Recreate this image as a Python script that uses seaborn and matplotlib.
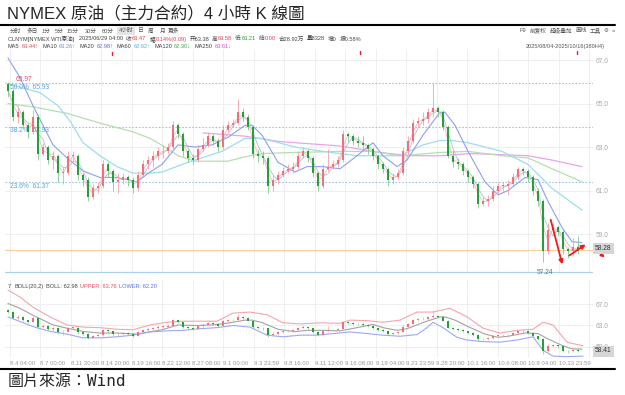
import numpy as np
import pandas as pd
import seaborn as sns
import matplotlib.pyplot as plt
from matplotlib.lines import Line2D

# one candle here ~ three real 4h bars of the reference
closes = [65.6, 64.4, 64.6, 64.0, 63.7, 64.4, 62.7, 63.0, 62.4, 62.6,
          61.8, 61.8, 62.6, 62.6, 61.7, 61.5, 60.7, 61.1, 61.2, 62.2,
          61.9, 61.4, 61.5, 61.6, 61.5, 61.1, 61.7, 62.2, 62.4, 62.6,
          62.8, 62.8, 63.0, 64.0, 63.6, 62.8, 62.5, 62.4, 62.9, 63.1,
          63.5, 63.3, 63.0, 63.8, 64.0, 64.1, 64.6, 64.4, 63.9, 62.7,
          62.6, 62.5, 61.2, 61.5, 61.7, 61.9, 62.0, 62.1, 62.6, 62.8,
          62.5, 61.8, 61.2, 62.0, 62.1, 62.2, 62.4, 63.6, 63.5, 63.3,
          63.2, 63.1, 62.9, 62.6, 62.2, 62.0, 61.5, 61.6, 61.8, 62.8,
          63.3, 64.1, 64.2, 64.3, 64.6, 64.8, 64.6, 63.9, 62.6, 62.3,
          62.2, 61.9, 61.6, 61.3, 60.4, 60.5, 60.6, 61.0, 61.2, 61.2,
          61.3, 61.6, 62.0, 61.9, 61.6, 61.0, 60.5, 58.2, 59.2, 59.3,
          59.1, 58.3, 58.2, 58.4, 58.28]
highs = [66.0, 65.7, 64.9, 64.7, 64.1, 64.7, 64.5, 63.2, 63.1, 62.8,
         62.7, 62.1, 62.8, 62.8, 62.7, 61.8, 61.6, 61.3, 61.4, 62.4,
         62.3, 62.0, 61.8, 61.8, 61.7, 61.6, 61.9, 62.4, 62.6, 62.8,
         63.0, 63.1, 63.2, 64.2, 64.1, 63.7, 62.9, 62.7, 63.1, 63.4,
         63.7, 63.6, 63.4, 64.0, 64.2, 64.3, 65.2, 64.8, 64.5, 64.0,
         62.9, 62.8, 62.6, 61.7, 61.9, 62.1, 62.2, 62.3, 62.8, 63.0,
         62.9, 62.6, 61.9, 62.2, 62.9, 62.4, 62.6, 63.8, 63.7, 63.6,
         63.5, 63.5, 63.2, 63.0, 62.7, 62.3, 62.1, 61.8, 62.0, 63.0,
         63.5, 64.3, 64.4, 64.6, 64.8, 65.95, 64.9, 64.7, 64.0, 62.8,
         62.5, 62.3, 62.0, 61.7, 61.4, 60.7, 60.8, 61.2, 61.4, 61.4,
         61.5, 61.8, 62.1, 62.1, 62.0, 61.7, 61.1, 60.6, 59.5, 59.5,
         59.4, 59.2, 58.4, 58.8, 58.9]
lows = [65.3, 64.2, 64.1, 63.9, 63.4, 63.6, 62.4, 62.6, 62.2, 62.0,
        61.4, 61.3, 61.7, 62.3, 61.5, 61.2, 60.5, 60.6, 60.9, 61.1,
        61.6, 61.0, 60.9, 61.3, 61.2, 60.9, 61.0, 61.6, 62.0, 62.1,
        62.4, 62.5, 62.7, 62.9, 63.4, 62.6, 62.3, 62.2, 62.3, 62.8,
        63.0, 63.1, 62.8, 62.9, 63.7, 63.9, 64.0, 64.2, 63.8, 62.5,
        62.3, 62.2, 60.9, 61.0, 61.3, 61.6, 61.8, 61.8, 62.0, 62.5,
        62.3, 61.6, 61.0, 61.1, 61.9, 62.0, 62.1, 62.3, 63.3, 63.1,
        63.0, 62.9, 62.7, 62.4, 62.0, 61.8, 61.2, 61.3, 61.5, 61.7,
        62.7, 63.2, 63.9, 64.0, 64.1, 64.4, 64.4, 63.8, 62.5, 62.1,
        62.0, 61.7, 61.4, 61.1, 60.2, 60.3, 60.3, 60.5, 60.9, 61.0,
        60.8, 61.2, 61.5, 61.7, 61.4, 60.8, 60.3, 57.7, 58.1, 59.0,
        58.9, 58.1, 57.9, 58.0, 58.1]
first_open = 65.9

# long moving averages, sampled along the bar axis
ma20_bar = [0, 2.4, 5, 7, 9, 11.8, 15, 18.4, 21.8, 25.8, 28.4, 30.8, 34, 37.4, 40.8, 44,
            47.4, 48.8, 50.8, 54, 57.4, 59.8, 63, 66.4, 69.8, 73, 75, 77.8, 79.8, 83,
            86.4, 87.4, 89.4, 92, 95.4, 98, 100, 103.4, 106, 108, 110.8, 112.8, 114.8]
ma20_val = [67.1, 66.2, 64.9, 64.0, 63.1, 62.5, 61.9, 61.6, 61.6, 61.4, 61.85, 62.2, 63.1, 63.0,
            63.1, 63.45, 64.0, 64.0, 63.55, 62.3, 61.85, 62.1, 62.1, 62.0, 62.6, 63.2, 62.6,
            62.1, 62.4, 63.55, 64.6, 64.6, 64.0, 62.8, 61.4, 60.8, 61.0, 61.6, 61.5, 60.5,
            59.3, 58.65, 58.6]
ma60_bar = [0, 6.4, 10, 12.4, 15, 18.4, 21.8, 25, 28.4, 30.8, 36, 42.8, 47.4, 50.8, 57.4,
            63, 69.8, 78.4, 83, 86.4, 88.8, 92, 98.8, 104, 108.8, 114.8]
ma60_val = [65.9, 65.5, 64.9, 64.2, 63.2, 62.6, 62.1, 61.8, 61.8, 61.85, 62.3, 62.8, 63.4,
            63.4, 63.0, 62.8, 62.6, 62.6, 63.1, 63.3, 63.3, 63.2, 62.8, 62.2, 61.1, 60.1]
ma120_bar = [0, 5, 11.8, 18.4, 25, 28.4, 31.4, 34, 37.4, 44, 47.4, 50.8, 57.4, 66.4, 73,
             78.4, 86.4, 92, 98.8, 104, 108.8, 114.8]
ma120_val = [65.0, 64.85, 64.55, 64.1, 63.7, 63.4, 63.0, 62.6, 62.35, 62.35, 62.55, 62.7,
             62.75, 62.8, 62.8, 62.6, 62.75, 62.8, 62.6, 62.5, 62.0, 61.4]
ma250_bar = [39, 47.4, 54.4, 66.4, 74.4, 80.4, 86.4, 92.4, 98.8, 104, 108.8, 114.8]
ma250_val = [63.65, 63.5, 63.25, 63.05, 62.75, 62.6, 62.6, 62.7, 62.65, 62.6, 62.4, 62.1]

# bollinger bands of the lower panel (middle band = MA20)
up_bar = [0, 2.4, 5, 8.4, 11.8, 15, 18.4, 21.8, 25, 28.4, 31.8, 35, 41.8, 45, 48.4, 51.8,
          55, 58.4, 62.4, 66.4, 68.4, 71.8, 75, 78.4, 81.8, 85, 88.4, 91.8, 95, 98.4,
          101.8, 105, 107, 109, 111.8, 115]
up_val = [69.6, 68.3, 66.4, 64.6, 63.1, 62.7, 62.6, 62.3, 62.2, 63.1, 63.6, 63.8, 63.8,
          65.3, 65.5, 65.0, 63.5, 63.3, 63.5, 63.4, 64.0, 63.9, 63.6, 64.0, 65.5, 65.5,
          66.2, 64.6, 62.5, 61.6, 62.1, 62.3, 63.6, 63.1, 59.9, 59.2]
low_bar = [0, 5, 8.4, 11.8, 15, 18.4, 21.8, 25, 28.4, 31.8, 35, 38.4, 41.8, 45, 48.4, 51.8,
           55, 58.4, 61.8, 65, 68.4, 71.8, 75, 78.4, 81.8, 83.8, 85, 87, 89.8, 91.8, 95,
           98.4, 101.8, 105, 107, 109, 111.8, 115]
low_val = [64.6, 62.8, 61.9, 61.4, 60.7, 60.7, 60.9, 61.2, 61.8, 62.0, 62.1, 62.4, 62.6,
           63.0, 62.7, 61.2, 60.9, 61.2, 61.2, 61.5, 61.8, 61.5, 61.2, 61.0, 61.3, 62.6,
           63.6, 62.6, 60.8, 60.3, 60.0, 59.9, 60.3, 60.9, 58.4, 57.3, 57.2, 57.3]

fib_names = ['50.0%', '38.2%', '23.6%']
fib_levels = [65.93, 63.93, 61.37]
last_price = 58.28
low_mark = 57.24
date_labels = ['8.4 04:00', '8.7 00:00', '8.11 20:00', '8.14 20:00', '8.19 16:00',
               '8.22 12:00', '8.27 08:00', '9.1 00:00', '9.3 23:59', '9.8 16:00',
               '9.11 12:00', '9.16 08:00', '9.19 04:00', '9.23 23:59', '9.28 20:00',
               '10.1 16:00', '10.6 08:00', '10.9 04:00', '10.13 23:59']
# hand drawn red arrows (bar, price) -> (bar, price)
arrows = [((108.4, 59.78), (111.0, 57.48)), ((111.8, 57.94), (116.0, 58.59))]

sns.set_theme(style='white')
plt.rcParams['font.family'] = ['DejaVu Sans', 'Noto Sans CJK SC']
small = ['Liberation Sans Narrow', 'Liberation Sans', 'Noto Sans CJK SC', 'DejaVu Sans']
FS = 4.1

W, H = 625, 395
fig = plt.figure(figsize=(W / 100, H / 100), dpi=100)
renderer = fig.canvas.get_renderer()


def px(x, y):
    return x / W, 1 - y / H


def label(x, y, s, color='#555555', size=FS, **kw):
    return fig.text(*px(x, y), s, fontsize=size, color=color, family=small,
                    va='center', ha='left', **kw)


def chain(x, y, parts):
    # parts: (text, colour, gap in px after it)
    for s, c, gap in parts:
        t = label(x, y, s, color=c)
        x += t.get_window_extent(renderer).width + gap


df = pd.DataFrame({'close': closes, 'high': highs, 'low': lows})
df['open'] = [first_open] + closes[:-1]
df['bar'] = np.arange(len(df))
df['ma5'] = df['close'].rolling(2, min_periods=1).mean()
df['ma10'] = df['close'].rolling(3, min_periods=1).mean()

grid_pos = 0.3 + 6.1 * np.arange(20)


def candles(ax, width, lw):
    up = df['close'] >= df['open']
    body_lo = np.minimum(df['open'], df['close'])
    body_h = np.maximum((df['close'] - df['open']).abs(), 0.04)
    ax.vlines(df['bar'], df['low'], df['high'],
              colors=np.where(up, '#f4a1a8', '#7fc98a'), lw=lw, zorder=3)
    ax.bar(df['bar'], body_h, bottom=body_lo, width=width,
           color=np.where(up, '#f0717b', '#23a038'), linewidth=0, zorder=4)


def base(ax):
    for s in ax.spines.values():
        s.set_visible(False)
    ax.set_xlim(-0.6, 117)
    for g in grid_pos:
        ax.axvline(g, color='#efefef', lw=0.7, zorder=0)
    ax.yaxis.tick_right()
    ax.tick_params(axis='y', length=0, pad=2, labelsize=4.8, labelcolor='#a8a8a8')
    ax.tick_params(axis='x', length=0)
    for t in ax.get_yticklabels() + ax.get_xticklabels():
        t.set_family(small)


# ---- main candle panel
ax = fig.add_axes([5 / W, 1 - 274 / H, 588 / W, 225 / H])
ax.set_ylim(57.16, 67.51)
ax.set_yticks([59, 61, 63, 65, 67], ['59.0', '61.0', '63.0', '65.0', '67.0'])
ax.set_xticks([])
base(ax)
for v in [59, 61, 63, 65, 67]:
    ax.axhline(v, color='#efefef', lw=0.7, zorder=0)
for name, v in zip(fib_names, fib_levels):
    ax.axhline(v, color='#9cc3e6', lw=0.8, ls=(0, (1.5, 1.5)), zorder=1)
    ax.annotate(f'{name}  {v:.2f}', (0.5, v), xytext=(0, -3), textcoords='offset points',
                fontsize=4.8, color='#5f9fd6', va='center', ha='left', family=small)
ax.annotate('65.97', (1.6, 65.97), xytext=(0, 2.2), textcoords='offset points',
            fontsize=4.8, color='#e0505a', va='center', ha='left', family=small)
ax.axhline(last_price, color='#fbcf9f', lw=0.9, zorder=1)
ax.axhline(low_mark, color='#a9d0ec', lw=0.9, zorder=1)
ax.text(107.4, low_mark, f'{low_mark:.2f}', fontsize=4.8, color='#4f8a5a',
        ha='center', va='center', zorder=6, family=small)

for xs, ys, col, lw in [(ma250_bar, ma250_val, '#e9a3ec', 0.9),
                        (ma120_bar, ma120_val, '#b3dfae', 0.9),
                        (ma60_bar, ma60_val, '#9fdcf0', 0.9),
                        (ma20_bar, ma20_val, '#8d9ff0', 0.8)]:
    sns.lineplot(x=xs, y=ys, ax=ax, color=col, lw=lw, zorder=2)
sns.lineplot(data=df, x='bar', y='ma10', ax=ax, color='#b4bfd6', lw=0.6, zorder=2)
sns.lineplot(data=df, x='bar', y='ma5', ax=ax, color='#f4b8be', lw=0.6, zorder=2)
candles(ax, 0.55, 0.6)
ax.set_xlabel('')
ax.set_ylabel('')
for (x0, y0), (x1, y1) in arrows:
    ax.annotate('', xy=(x1, y1), xytext=(x0, y0),
                arrowprops=dict(arrowstyle='-|>', color='#ee1c1c', lw=1.3,
                                mutation_scale=6), zorder=7)
ax.annotate('', xy=(119.8, 57.85), xytext=(118.0, 58.17), annotation_clip=False,
            arrowprops=dict(arrowstyle='-|>', color='#ee1c1c', lw=1.2, mutation_scale=5))

# ---- lower BOLL panel
ax2 = fig.add_axes([5 / W, 1 - 358 / H, 588 / W, 78 / H])
ax2.set_ylim(56.95, 71.47)
ax2.set_yticks([59, 63, 67], ['59.0', '63.0', '67.0'])
ax2.set_xticks(grid_pos[:len(date_labels)], date_labels, ha='left')
base(ax2)
ax2.tick_params(axis='x', labelsize=4.3, labelcolor='#9a9a9a', pad=2)
for v in [59, 63, 67]:
    ax2.axhline(v, color='#efefef', lw=0.7, zorder=0)
sns.lineplot(x=up_bar, y=up_val, ax=ax2, color='#f3a6ac', lw=0.8, zorder=2)
sns.lineplot(x=ma20_bar, y=ma20_val, ax=ax2, color='#a3a3a3', lw=0.8, zorder=2)
sns.lineplot(x=low_bar, y=low_val, ax=ax2, color='#9aa9f5', lw=0.8, zorder=2)
candles(ax2, 0.45, 0.5)
ax2.set_xlabel('')
ax2.set_ylabel('')

# ---- header and footer text
fig.text(*px(7, 13), 'NYMEX 原油（主力合約）4 小時 K 線圖', fontsize=12,
         family=['Liberation Sans Narrow', 'Liberation Sans', 'Noto Sans CJK TC'],
         va='center', ha='left')
fig.add_artist(Line2D([0, 615 / W], [1 - 25 / H] * 2, color='black', lw=1.5))
fig.add_artist(Line2D([0, 615 / W], [1 - 369 / H] * 2, color='black', lw=1.5))
fig.text(*px(8, 381), '圖片來源：Wind', fontsize=11.5,
         family=['DejaVu Sans Mono', 'Noto Sans CJK TC'], va='center', ha='left')

tools = ['分时', '多日', '1分', '5分', '15分', '30分', '60分', '4小时', '日', '周', '月', '更多']
tool_x = [10, 27, 42, 55, 67, 85, 102, 119, 138, 148, 160, 168]
for t, x in zip(tools, tool_x):
    kw = dict(bbox=dict(boxstyle='square,pad=0.3', fc='#e4e4e4', ec='none')) if t == '4小时' else {}
    label(x, 31, t, **kw)
x = 520
for t in ['F9', '前复权', '超级叠加', '画线', '工具', '\u2699', '»']:
    tx = fig.text(*px(x, 31), t, fontsize=FS, color='#555555', va='center', ha='left',
                  family=['Liberation Sans', 'Noto Sans CJK SC', 'DejaVu Sans'])
    x += tx.get_window_extent(renderer).width + 3

G = '#444444'
chain(8, 39, [('CLNYM[NYMEX WTI原油]', G, 4.5), ('2025/06/29 04:00', G, 3),
              ('收', G, 0.5), ('63.47', '#e0404a', 3), ('幅', G, 0.5),
              ('0.14%(0.09)', '#e0404a', 3), ('开63.38', G, 3),
              ('高', G, 0.5), ('63.58', '#e0404a', 3), ('低', G, 0.5),
              ('63.21', '#2a9a3a', 3), ('结', G, 0.5), ('0.00', '#e0404a', 3),
              ('合28.92万', G, 3), ('量8328', G, 3), ('增0', G, 3), ('振0.58%', G, 0)])

chain(8, 46.5, [('MA5', G, 2), ('63.44↑', '#e0505a', 3.5),
                ('MA10', G, 2), ('63.26↑', '#6a8fd0', 3.5),
                ('MA20', G, 2), ('62.98↑', '#4d6ae0', 3.5),
                ('MA60', G, 2), ('62.62↑', '#3fb4dc', 3.5),
                ('MA120', G, 2), ('62.30↓', '#3ea94a', 3.5),
                ('MA250', G, 2), ('63.61↓', '#d84bd8', 0)])
label(526, 46.5, '2025/08/04-2025/10/16(380H4)')

chain(8, 286.5, [('7', G, 3), ('BOLL(20,2)', G, 2.5), ('BOLL: 62.98', G, 2.5),
                 ('UPPER: 63.76', '#e0505a', 2.5), ('LOWER: 62.20', '#5a6ee8', 0)])

for tag, y in [(f'{last_price:.2f}', 248), ('58.41', 351)]:
    label(595, y, tag, color='#333333', size=4.8, zorder=5,
          bbox=dict(boxstyle='square,pad=0.3', fc='#d6d6d6', ec='none'))

for x, y in [(112, 53), (360, 52), (577, 52)]:
    fig.add_artist(Line2D([x / W] * 2, [1 - (y - 1.5) / H, 1 - (y + 1.5) / H],
                          color='#e8202a', lw=1.0))

fig.savefig('out.png', dpi=100)
